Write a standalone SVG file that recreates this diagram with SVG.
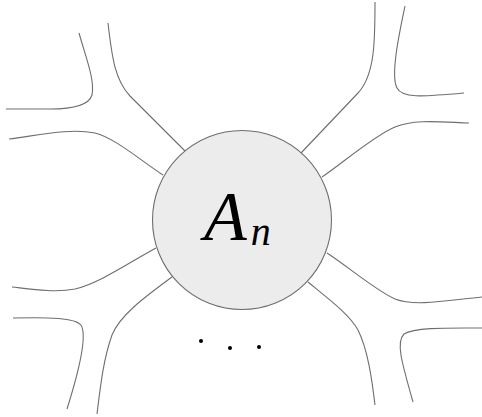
<svg xmlns="http://www.w3.org/2000/svg" width="482" height="417" viewBox="0 0 482 417">
<style>
.c{fill:none;stroke:#6e6e6e;stroke-width:1.1}
.dot{fill:#000}
.t{font-family:"Liberation Serif","DejaVu Serif",serif;font-style:italic;fill:#000}
</style>
<rect width="482" height="417" fill="#fff"/>
<g id="connectors">
<path class="c" d="M108,23 C112,58 115,80 130,96 L186,152"/>
<path class="c" d="M9,139 C40,135 70,128 95,133 C115,138 140,160 163,175"/>
<path class="c" d="M79,33 C86,58 95,80 92,95 C89,105 75,109 50,109 L6,109"/>
<path class="c" d="M375,2 C375,40 375,75 358,93 L301,153"/>
<path class="c" d="M469,123 C440,122 415,119 395,127 C375,135 340,165 322,177"/>
<path class="c" d="M405,6 C400,30 390,75 397,88 C402,98 420,97 464,93"/>
<path class="c" d="M12,287 C30,289 55,293 75,289 C100,283 130,262 156,248"/>
<path class="c" d="M172,277 C145,297 120,315 112,335 C103,360 100,390 97,414"/>
<path class="c" d="M13,318 C50,317 75,318 81,325 C86,333 84,355 67,409"/>
<path class="c" d="M327,253 C350,268 375,290 395,299 C415,307 450,300 482,297"/>
<path class="c" d="M308,282 C330,300 350,315 358,330 C368,350 372,380 375,405"/>
<path class="c" d="M482,328 C450,328 415,327 404,334 C396,342 401,360 413,402"/>
</g>
<g id="node-An">
<circle cx="242" cy="220" r="89.5" fill="#ececec" stroke="#6e6e6e" stroke-width="1.1"/>
<text class="t" x="204" y="240" font-size="70">A<tspan font-size="40" dx="4" dy="5">n</tspan></text>
</g>
<g id="dots">
<circle class="dot" cx="201" cy="341" r="2"/>
<circle class="dot" cx="230" cy="348" r="2"/>
<circle class="dot" cx="259" cy="347" r="2"/>
</g>
</svg>
